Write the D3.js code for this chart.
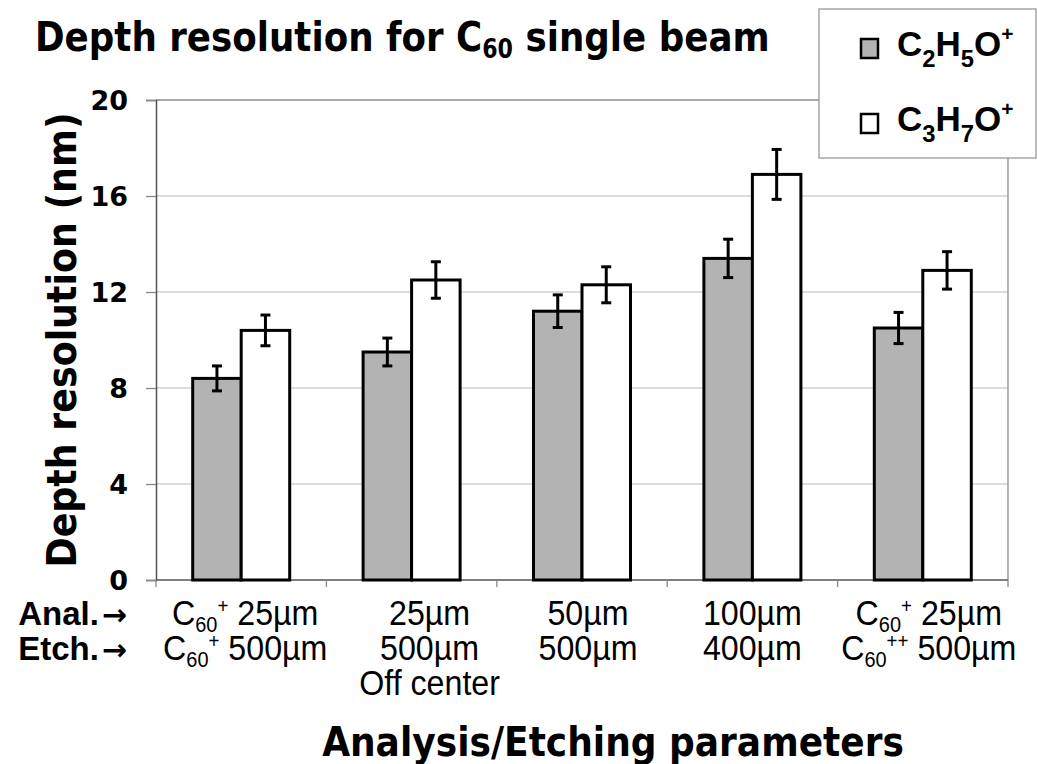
<!DOCTYPE html>
<html><head><meta charset="utf-8">
<script src="https://cdn.jsdelivr.net/npm/d3@7"></script>
<style>body{margin:0;background:#fff}svg{display:block}</style>
</head><body>
<svg id="c" width="1037" height="764"></svg>
<script>
// ---- data ----
const categories = ["A", "B", "C", "D", "E"];
const analysisLabels = ["C_{60}^{+} 25µm", "25µm", "50µm", "100µm", "C_{60}^{+} 25µm"];
const etchingLabels = ["C_{60}^{+} 500µm", "500µm", "500µm", "400µm", "C_{60}^{++} 500µm"];
const extraLabels = ["", "Off center", "", "", ""];
const seriesNames = ["C_{2}H_{5}O^{+}", "C_{3}H_{7}O^{+}"];
const c2h5oValues = [8.4, 9.5, 11.2, 13.4, 10.5];
const c2h5oErrors = [0.52, 0.58, 0.68, 0.80, 0.65];
const c3h7oValues = [10.4, 12.5, 12.3, 16.9, 12.9];
const c3h7oErrors = [0.64, 0.76, 0.75, 1.04, 0.78];
const yTicks = [0, 4, 8, 12, 16, 20];

// ---- layout ----
const svg = d3.select("#c");
const L = 156, R = 1008, T = 100, B = 580;
const labelNudge = [4, 18, 6, 0, 6];
const fills = ["#b3b3b3", "#ffffff"];

const x = d3.scaleBand().domain(categories).range([L, R]).padding(0);
const groupW = 97;
const xs = d3.scaleBand().domain([0, 1]).range([0, groupW]).padding(0);
const y = d3.scaleLinear().domain([0, 20]).range([B, T]);

function rich(sel, str, size, opts) {
  const o = Object.assign({subScale: 0.65, supScale: 0.65, subShift: 0.25, supShift: -0.38}, opts || {});
  const parts = str.split(/(_\{[^}]*\}|\^\{[^}]*\})/).filter(s => s.length);
  let cur = 0;
  parts.forEach(p => {
    let txt = p, fs = size, shift = 0;
    if (p.startsWith("_{")) { txt = p.slice(2, -1); fs = size * o.subScale; shift = size * o.subShift; }
    else if (p.startsWith("^{")) { txt = p.slice(2, -1); fs = size * o.supScale; shift = size * o.supShift; }
    sel.append("tspan").attr("font-size", fs).attr("dy", shift - cur).text(txt);
    cur = shift;
  });
}

// gridlines
svg.append("g").selectAll("line").data(yTicks.filter(t => t > 0 && t < 20)).join("line")
  .attr("x1", L).attr("x2", R).attr("y1", d => y(d)).attr("y2", d => y(d))
  .attr("stroke", "#d0d0d0").attr("stroke-width", 1.3);
// top/right border
svg.append("path").attr("d", `M${L},${y(20)}H${R}V${B}`).attr("fill", "none")
  .attr("stroke", "#8c8c8c").attr("stroke-width", 1.3);

// y axis
const yAxis = d3.axisLeft(y).tickValues(yTicks).tickSize(10).tickPadding(18).tickFormat(d3.format("d"));
const ya = svg.append("g").attr("transform", `translate(${L},0)`).call(yAxis);
ya.select(".domain").attr("stroke", "#555").attr("stroke-width", 1.5);
ya.selectAll(".tick line").attr("stroke", "#888").attr("stroke-width", 1.3);
ya.selectAll(".tick text").attr("font-family", "DejaVu Sans").attr("font-weight", "bold")
  .attr("font-size", 27).attr("fill", "#000").attr("dy", "0.36em");

// x axis
const xa = svg.append("g").attr("transform", `translate(0,${B})`);
xa.append("line").attr("x1", L).attr("x2", R).attr("stroke", "#555").attr("stroke-width", 1.5);
xa.selectAll(".xt").data(categories.map(c => x(c)).concat([R])).join("line").attr("class", "xt")
  .attr("x1", d => d).attr("x2", d => d).attr("y1", 0).attr("y2", 7)
  .attr("stroke", "#888").attr("stroke-width", 1.3);

// bars
const series = [
  {vals: c2h5oValues, errs: c2h5oErrors},
  {vals: c3h7oValues, errs: c3h7oErrors}
];
series.forEach((s, si) => {
  const g = svg.append("g");
  const bx = i => x(categories[i]) + (x.bandwidth() - groupW) / 2 + xs(si);
  g.selectAll("rect").data(s.vals).join("rect")
    .attr("x", (d, i) => bx(i)).attr("width", xs.bandwidth())
    .attr("y", d => y(d)).attr("height", d => y(0) - y(d))
    .attr("fill", fills[si]).attr("stroke", "#000").attr("stroke-width", 3);
  const eb = g.selectAll(".eb").data(s.vals).join("g").attr("class", "eb");
  const cx = i => bx(i) + xs.bandwidth() / 2;
  eb.append("line").attr("x1", (d, i) => cx(i)).attr("x2", (d, i) => cx(i))
    .attr("y1", (d, i) => y(d + s.errs[i])).attr("y2", (d, i) => y(d - s.errs[i]))
    .attr("stroke", "#000").attr("stroke-width", 3);
  [1, -1].forEach(sg => {
    eb.append("line").attr("x1", (d, i) => cx(i) - 5).attr("x2", (d, i) => cx(i) + 5)
      .attr("y1", (d, i) => y(d + sg * s.errs[i])).attr("y2", (d, i) => y(d + sg * s.errs[i]))
      .attr("stroke", "#000").attr("stroke-width", 3);
  });
});

// category labels
const rows = [analysisLabels, etchingLabels, extraLabels];
const rowY = [625, 660, 695];
rows.forEach((row, ri) => {
  row.forEach((lab, i) => {
    if (!lab) return;
    const cx = x(categories[i]) + x.bandwidth() / 2 + labelNudge[i];
    const t = svg.append("g").attr("transform", `translate(${cx},${rowY[ri]}) scale(0.92,1)`)
      .append("text").attr("text-anchor", "middle").attr("font-family", "Liberation Sans")
      .attr("font-size", 35).attr("fill", "#000");
    rich(t, lab, 35, {subScale: 0.62, supScale: 0.58, subShift: 0.2, supShift: -0.33});
  });
});
[["Anal.", rowY[0]], ["Etch.", rowY[1]]].forEach(([lab, yy]) => {
  const t = svg.append("text").attr("x", 127).attr("y", yy).attr("text-anchor", "end")
    .attr("font-family", "Liberation Sans").attr("font-weight", "bold").attr("font-size", 33);
  t.append("tspan").text(lab);
  t.append("tspan").attr("font-family", "DejaVu Sans").attr("font-size", 30).attr("dx", 3).text("\u2192");
});

// titles
const title = svg.append("g").attr("transform", "translate(35,51) scale(0.86,1)")
  .append("text").attr("font-family", "DejaVu Sans").attr("font-weight", "bold").attr("font-size", 41.5);
rich(title, "Depth resolution for C_{60} single beam", 41.5, {subScale: 0.62, subShift: 0.18});

svg.append("g").attr("transform", "translate(613,756) scale(0.9,1)")
  .append("text").attr("text-anchor", "middle").attr("font-family", "DejaVu Sans").attr("font-weight", "bold")
  .attr("font-size", 40).text("Analysis/Etching parameters");

svg.append("g").attr("transform", "translate(76,340) rotate(-90) scale(0.91,1)")
  .append("text").attr("text-anchor", "middle").attr("font-family", "DejaVu Sans").attr("font-weight", "bold")
  .attr("font-size", 40).text("Depth resolution (nm)");

// legend
const lg = svg.append("g");
lg.append("rect").attr("x", 819).attr("y", 9).attr("width", 217).attr("height", 149)
  .attr("fill", "#fff").attr("stroke", "#999").attr("stroke-width", 1.3);
const legY = [56, 131];
seriesNames.forEach((nm, i) => {
  lg.append("rect").attr("x", 861).attr("y", legY[i] - 17).attr("width", 17).attr("height", 19)
    .attr("fill", fills[i]).attr("stroke", "#000").attr("stroke-width", 2.5);
  const t = lg.append("text").attr("x", 897).attr("y", legY[i]).attr("font-family", "Liberation Sans")
    .attr("font-weight", "bold").attr("font-size", 35);
  rich(t, nm, 35, {subScale: 0.68, supScale: 0.6, subShift: 0.3, supShift: -0.42});
});
</script>
</body></html>
